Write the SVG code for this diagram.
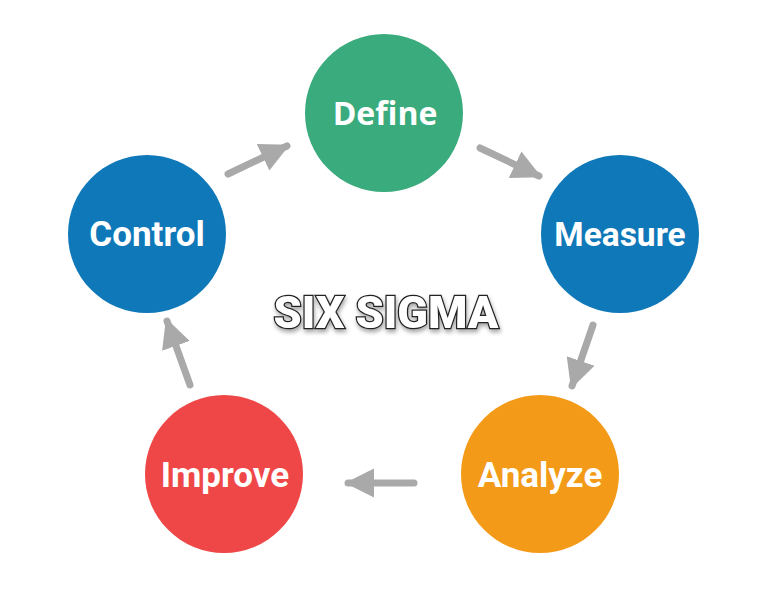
<svg xmlns="http://www.w3.org/2000/svg" width="768" height="589" viewBox="0 0 768 589">
<defs>
<marker id="ah" viewBox="0 0 10 10" refX="9" refY="5" markerWidth="4.2" markerHeight="4.2" markerUnits="strokeWidth" orient="auto">
<path d="M0,0 L10,5 L0,10 z" fill="#a9a9a9"/>
</marker>
<filter id="sh" x="-10%" y="-20%" width="120%" height="150%">
<feDropShadow dx="1" dy="3" stdDeviation="2" flood-color="#000" flood-opacity="0.35"/>
</filter>
</defs>
<style>
.lbl{font-family:Roboto,"Liberation Sans",sans-serif;font-weight:bold;font-size:35px;fill:#fff;text-anchor:middle}
.conn{stroke:#a9a9a9;stroke-width:7;stroke-linecap:round;fill:none;marker-end:url(#ah)}
.title{font-family:Roboto,"Liberation Sans",sans-serif;font-weight:900;font-size:45px;fill:#fff;stroke:#222;stroke-width:2.5;paint-order:stroke;text-anchor:middle}
</style>
<rect width="768" height="589" fill="#fff"/>
<g id="connectors">
<line class="conn" x1="228" y1="174" x2="287" y2="146"/>
<line class="conn" x1="480" y1="148" x2="539" y2="176"/>
<line class="conn" x1="593" y1="325" x2="572" y2="386"/>
<line class="conn" x1="414" y1="483" x2="348" y2="483"/>
<line class="conn" x1="190" y1="385" x2="167" y2="321"/>
</g>
<g id="define"><circle cx="384" cy="113" r="79" fill="#3aab7c"/><text class="lbl" x="385" y="125" style="font-family:'Open Sans','Noto Sans',sans-serif;font-size:32px">Define</text></g>
<g id="measure"><circle cx="620" cy="234" r="79" fill="#0f78b8"/><text class="lbl" x="620" y="246" style="font-size:33.5px">Measure</text></g>
<g id="analyze"><circle cx="540" cy="474" r="79" fill="#f39a18"/><text class="lbl" x="540" y="487">Analyze</text></g>
<g id="improve"><circle cx="224" cy="474" r="79" fill="#ef4747"/><text class="lbl" x="225" y="487">Improve</text></g>
<g id="control"><circle cx="147" cy="234" r="79" fill="#0f78b8"/><text class="lbl" x="147" y="246">Control</text></g>
<g id="title"><text class="title" x="386" y="328" filter="url(#sh)">SIX SIGMA</text></g>
</svg>
